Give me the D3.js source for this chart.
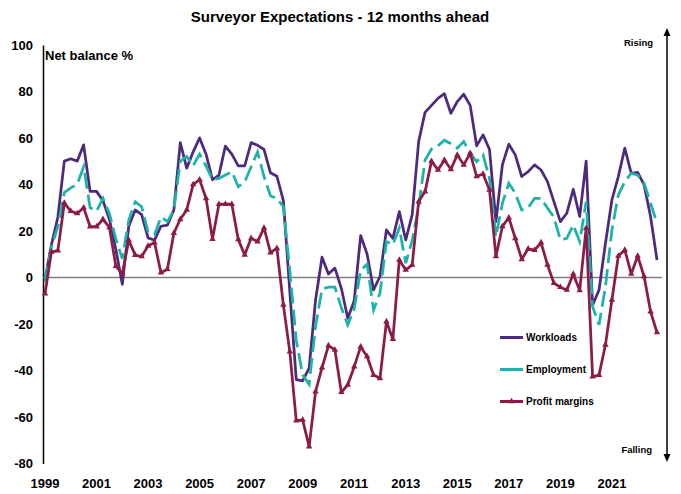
<html>
  <head>
    <meta charset="utf-8" />
    <script src="https://d3js.org/d3.v7.min.js"></script>
    <style>
      body { margin: 0; background: #fff; }
      svg text { font-family: "Liberation Sans", Arial, sans-serif; font-weight: bold; fill: #000; }
    </style>
  </head>
  <body>
    <svg id="chart" width="681" height="494"></svg>
    <script>
      // quarterly survey balances, 1999 Q1 to 2022 Q4
      const yearLabels = ["1999", "2001", "2003", "2005", "2007", "2009", "2011",
                          "2013", "2015", "2017", "2019", "2021"];
      const yTicks = [-80, -60, -40, -20, 0, 20, 40, 60, 80, 100];

      const workloads = [
        -1, 14, 26, 50, 51, 50, 57, 37, 37, 33, 25, 12, -3, 22, 29, 27,
        17, 16, 22, 22.5, 29, 58, 47, 54, 60, 53, 42, 44, 56.5, 53, 48, 48,
        58, 56.8, 55, 45, 43.5, 33, -6, -44, -44.5, -39, -9.7, 8.7, 1.5, 4,
        -4.7, -17.6, -10, 18, 10, -5.4, 0.4, 20.4, 16.8, 28.3, 16.1, 27, 58.4, 71, 74, 77,
        79, 70.6, 75.6, 78.8, 74, 56.6, 61.3, 55, 24, 48.4, 57.3, 52.7, 43.4, 45.5, 48.4, 46.2,
        41.2, 32.6, 24, 27.6, 37.9, 26.2, 50, -12, -5.4, 14.7, 33.3, 43.4, 55.6, 44.8, 45.2, 39.8,
        26.2, 7.5
      ];
      const employment = [
        -2, 13, 21.8, 36.5, 38.5, 40, 47.6, 30, 28.5, 34, 27.5, 16.5, 8, 24.6, 32.5, 30.4,
        19.6, 18.2, 26, 24, 29, 50, 52, 48, 53, 48, 42, 42.6, 44, 45.4, 39, 41,
        47.6, 54, 43.3, 35, 34, 30.4, 3, -27, -42, -46, -21, -5, -4.2, -4.2,
        -13, -20.4, -13.5, 3, 5.7, -14, -6.8, 15.4, 14, 21.2, 6.1, 16, 30.5, 50.5, 55.2, 56.6,
        59, 57.5, 55.6, 58.4, 53.5, 49.8, 52.7, 42.6, 17.5, 31.9, 40.5, 36.2, 29, 30, 34, 34,
        29.8, 25.9, 16.1, 16.8, 22.6, 15.4, 32.6, -12.5, -20.4, -4, 20.4, 35.5, 41.2, 44.8, 44, 40.5,
        31.9, 23.3
      ];
      const profitMargins = [
        -7, 11, 11.5, 32, 28.5, 27.5, 30, 21.8, 21.8, 25, 21.5, 4.8, 1.5, 16, 9.6, 9,
        13.5, 15, 2, 3.5, 19, 25, 29, 40, 42, 34, 16.5, 31.5, 31.5, 31.5, 16.3, 9.7,
        16.8, 15.4, 21.3, 10.7, 12.5, -11.8, -31.9, -61.6, -61.3, -72.8, -49.1, -38.8, -29.3, -31.2,
        -49.4, -46.2, -38.4, -29.8, -34, -42, -43.4, -19, -26.6, 7.5, 3.2, 5.4, 32.6, 36.9, 50, 46.2,
        50.5, 46.5, 52.7, 48.4, 53.4, 43.4, 44.5, 37.6, 9, 21.9, 25.7, 16.8, 7.8, 12.3, 11.7, 15,
        5.4, -2.5, -4.2, -5.4, 1.5, -5.6, 21.2, -42.7, -42, -29, -9.7, 9.2, 11.8, 1.5, 9.2, 0.4,
        -14.7, -23.7
      ];

      const seriesNames = ["Workloads", "Employment", "Profit margins"];
      const seriesColors = ["#4e2a7e", "#1db3a9", "#8c1c47"];

      const svg = d3.select("#chart");

      const x = d3.scaleLinear().domain([0, workloads.length - 1]).range([45, 657]);
      const y = d3.scaleLinear().domain([-80, 100]).range([463.4, 44.9]);

      // title
      svg.append("text")
        .attr("x", 340).attr("y", 22)
        .attr("text-anchor", "middle")
        .style("font-size", "15px")
        .text("Surveyor Expectations - 12 months ahead");

      // y axis (no ticks, just line + labels), plain hyphen for negatives
      const yAxis = d3.axisLeft(y)
        .tickValues(yTicks)
        .tickFormat(d => String(d))
        .tickSize(0)
        .tickPadding(10);
      const gy = svg.append("g").attr("transform", "translate(43,0)").call(yAxis);
      gy.select(".domain").attr("stroke", "#000").attr("stroke-width", 1.5);
      gy.selectAll("text")
        .style("font-size", "13px")
        .style("font-family", "'Liberation Sans', Arial, sans-serif")
        .style("font-weight", "bold")
        .attr("fill", "#000");

      svg.append("text")
        .attr("x", 45).attr("y", 59.5)
        .style("font-size", "13px")
        .text("Net balance %");

      // zero line
      svg.append("line")
        .attr("x1", 43).attr("x2", 662)
        .attr("y1", y(0)).attr("y2", y(0))
        .attr("stroke", "#7f7f7f").attr("stroke-width", 1.5);

      // year labels under the chart
      svg.append("g").selectAll("text")
        .data(yearLabels)
        .join("text")
        .attr("x", d => x((+d - 1999) * 4))
        .attr("y", 488)
        .attr("text-anchor", "middle")
        .style("font-size", "13px")
        .text(d => d);

      // lines
      const line = d3.line().x((d, i) => x(i)).y(d => y(d));

      svg.append("path").datum(workloads)
        .attr("d", line)
        .attr("fill", "none")
        .attr("stroke", seriesColors[0])
        .attr("stroke-width", 2.75)
        .attr("stroke-linejoin", "round");

      svg.append("path").datum(employment)
        .attr("d", line)
        .attr("fill", "none")
        .attr("stroke", seriesColors[1])
        .attr("stroke-width", 2.75)
        .attr("stroke-dasharray", "16,6");

      svg.append("path").datum(profitMargins)
        .attr("d", line)
        .attr("fill", "none")
        .attr("stroke", seriesColors[2])
        .attr("stroke-width", 2.75)
        .attr("stroke-linejoin", "round");

      const tri = d3.symbol(d3.symbolTriangle).size(18);
      svg.append("g").selectAll("path")
        .data(profitMargins)
        .join("path")
        .attr("d", tri)
        .attr("transform", (d, i) => "translate(" + x(i) + "," + y(d) + ")")
        .attr("fill", seriesColors[2]);

      // legend
      const legendY = [337.5, 369.5, 401.5];
      const legend = svg.append("g");
      seriesNames.forEach((name, k) => {
        legend.append("line")
          .attr("x1", 500).attr("x2", 523)
          .attr("y1", legendY[k]).attr("y2", legendY[k])
          .attr("stroke", seriesColors[k])
          .attr("stroke-width", 3);
        legend.append("text")
          .attr("x", 526).attr("y", legendY[k])
          .attr("dy", "0.35em")
          .style("font-size", "10px")
          .text(name);
      });
      legend.append("path")
        .attr("d", tri)
        .attr("transform", "translate(511.5," + legendY[2] + ")")
        .attr("fill", seriesColors[2]);

      // rising / falling arrow on the right
      svg.append("line")
        .attr("x1", 667).attr("x2", 667)
        .attr("y1", 34).attr("y2", 456)
        .attr("stroke", "#000").attr("stroke-width", 1.5);
      svg.append("path")
        .attr("d", "M667,28 L663.5,36 L670.5,36 Z")
        .attr("fill", "#000");
      svg.append("path")
        .attr("d", "M667,462 L663.5,454 L670.5,454 Z")
        .attr("fill", "#000");

      svg.append("text")
        .attr("x", 653).attr("y", 45.5)
        .attr("text-anchor", "end")
        .style("font-size", "9.5px")
        .text("Rising");
      svg.append("text")
        .attr("x", 652).attr("y", 453)
        .attr("text-anchor", "end")
        .style("font-size", "9.5px")
        .text("Falling");
    </script>
  </body>
</html>
